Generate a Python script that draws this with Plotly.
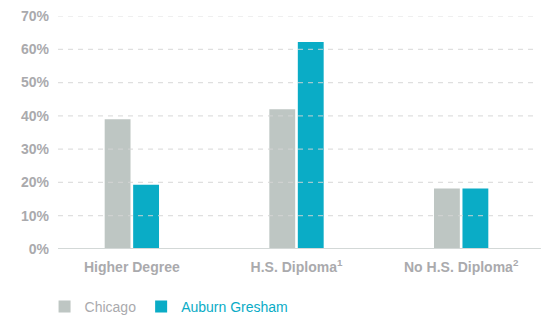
import plotly.graph_objects as go

categories = ["Higher Degree", "H.S. Diploma<sup>1</sup>", "No H.S. Diploma<sup>2</sup>"]
chicago = [39.0, 42.0, 18.2]
auburn = [19.3, 62.2, 18.2]
y_ticks = [0, 10, 20, 30, 40, 50, 60, 70]
y_tick_labels = ["0%", "10%", "20%", "30%", "40%", "50%", "60%", "70%"]

GRAY_BAR = "#bec6c3"
TEAL = "#0aacc6"
TXT = "#aaaaad"
FONT = "Liberation Sans, Arial, sans-serif"

x_idx = list(range(len(categories)))

fig = go.Figure()
fig.add_trace(go.Bar(
    x=x_idx, y=chicago, name="Chicago",
    marker=dict(color=GRAY_BAR, line=dict(width=0)),
    width=0.157, offset=-0.165,
))
fig.add_trace(go.Bar(
    x=x_idx, y=auburn, name=f'<span style="color:{TEAL}">Auburn Gresham</span>',
    marker=dict(color=TEAL, line=dict(width=0)),
    width=0.157, offset=0.008,
))

shapes = []
for t in y_ticks:
    if t == 0:
        shapes.append(dict(type="line", xref="paper", yref="y", x0=0, x1=1.006, y0=t, y1=t,
                           line=dict(color="#d3d8d7", width=2), layer="above"))
    else:
        shapes.append(dict(type="line", xref="paper", yref="y", x0=0, x1=1, y0=t, y1=t,
                           line=dict(color="rgba(212,212,212,0.75)", width=1.2, dash="5px,5px"),
                           layer="above"))

fig.update_layout(
    width=543, height=309,
    margin=dict(l=50, r=13, t=8, b=68, autoexpand=False),
    paper_bgcolor="white", plot_bgcolor="white",
    barmode="overlay",
    font=dict(family=FONT, size=14, color=TXT),
    showlegend=True,
    legend=dict(orientation="h", x=-0.028, xanchor="left", y=-0.249, yanchor="middle",
                font=dict(family=FONT, size=14, color=TXT),
                itemwidth=30, traceorder="normal", bgcolor="rgba(0,0,0,0)"),
    shapes=shapes,
    xaxis=dict(range=[-0.4485, 2.4667], tickvals=x_idx, ticktext=categories,
               showgrid=False, zeroline=False, showline=False, ticks="", automargin=False,
               tickfont=dict(family=FONT, size=14, color=TXT, weight="bold"),
               ticklabelstandoff=8, ticklabeloverflow="allow", fixedrange=True),
    yaxis=dict(range=[0, 70], tickvals=y_ticks, ticktext=y_tick_labels,
               showgrid=False, zeroline=False, showline=False, ticks="", automargin=False,
               tickfont=dict(family=FONT, size=14, color=TXT, weight="bold"),
               ticklabelstandoff=8, ticklabeloverflow="allow", fixedrange=True),
)

fig.write_html("out.html")
